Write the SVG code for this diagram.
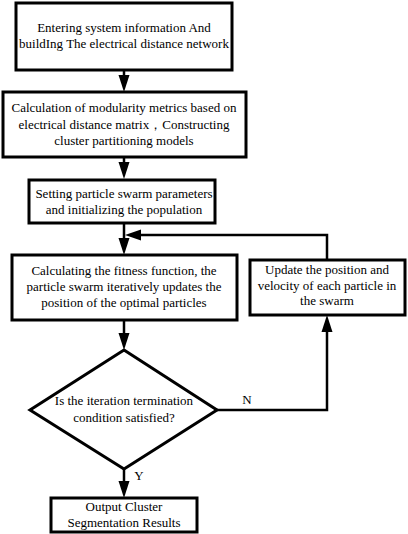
<svg xmlns="http://www.w3.org/2000/svg" width="408" height="534" viewBox="0 0 408 534">
<defs>
<style>
.box{fill:#fff;stroke:#000;stroke-width:3}
.t{font-family:'Liberation Serif','Times New Roman','DejaVu Serif',serif;font-size:13px;fill:#000;text-anchor:middle}
.c{fill:none;stroke:#000;stroke-width:2.5}
</style>
</defs>
<rect width="408" height="534" fill="#fff"/>
<g id="connectors">
<path class="c" d="M124,70 V76"/>
<path d="M118.5,75 L129.5,75 L124,92 Z"/>
<path class="c" d="M124,157 V163"/>
<path d="M118.5,162 L129.5,162 L124,179 Z"/>
<path class="c" d="M124,223 V239"/>
<path d="M118.5,238 L129.5,238 L124,255 Z"/>
<path class="c" d="M327,260 V235 H140"/>
<path d="M141,229.5 L141,240.5 L125,235 Z"/>
<path class="c" d="M124,320 V334"/>
<path d="M118.5,333 L129.5,333 L124,350 Z"/>
<path class="c" d="M217,410 H327 V331"/>
<path d="M321.5,332 L332.5,332 L327,315 Z"/>
<path class="c" d="M124,469 V482"/>
<path d="M118.5,481 L129.5,481 L124,498 Z"/>
<text class="t" x="247" y="404">N</text>
<text class="t" x="139" y="480">Y</text>
</g>
<g id="n1">
<rect class="box" x="16" y="3" width="216" height="67"/>
<text class="t" x="124" y="32">Entering system information And</text>
<text class="t" x="124" y="48">buildIng The electrical distance network</text>
</g>
<g id="n2">
<rect class="box" x="3" y="92" width="243" height="65"/>
<text class="t" x="124" y="112">Calculation of modularity metrics based on</text>
<text class="t" x="124" y="129">electrical distance matrix，Constructing</text>
<text class="t" x="124" y="145">cluster partitioning models</text>
</g>
<g id="n3">
<rect class="box" x="29" y="180" width="186" height="43"/>
<text class="t" x="124" y="198">Setting particle swarm parameters</text>
<text class="t" x="124" y="214">and initializing the population</text>
</g>
<g id="n4">
<rect class="box" x="12" y="255" width="225" height="65"/>
<text class="t" x="124" y="275">Calculating the fitness function, the</text>
<text class="t" x="124" y="291">particle swarm iteratively updates the</text>
<text class="t" x="124" y="307">position of the optimal particles</text>
</g>
<g id="n5">
<rect class="box" x="250" y="260" width="155" height="55"/>
<text class="t" x="327" y="274">Update the position and</text>
<text class="t" x="327" y="290">velocity of each particle in</text>
<text class="t" x="327" y="305">the swarm</text>
</g>
<g id="n6">
<path class="box" d="M124,350 L217,410 L124,469 L30,410 Z"/>
<text class="t" x="124" y="405">Is the iteration termination</text>
<text class="t" x="124" y="422">condition satisfied?</text>
</g>
<g id="n7">
<rect class="box" x="51" y="498" width="146" height="34"/>
<text class="t" x="124" y="511">Output Cluster</text>
<text class="t" x="124" y="527">Segmentation Results</text>
</g>
</svg>
